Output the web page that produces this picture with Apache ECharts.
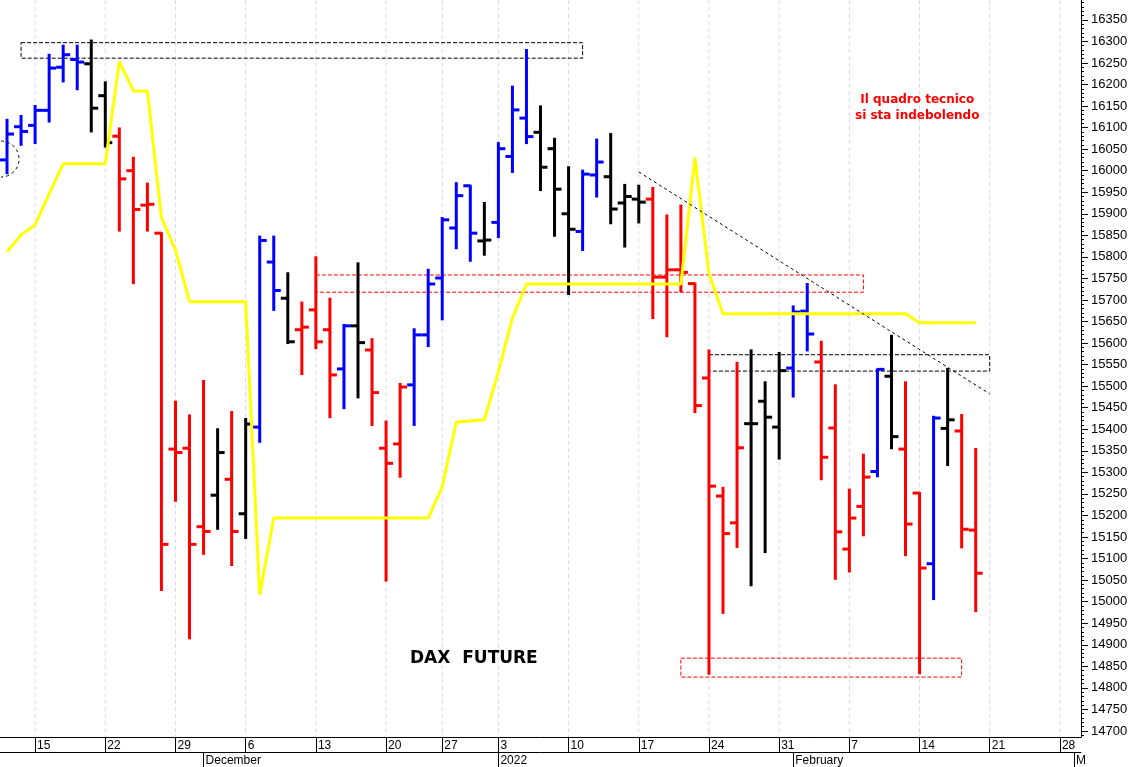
<!DOCTYPE html>
<html><head><meta charset="utf-8">
<script src="https://cdn.jsdelivr.net/npm/echarts@6/dist/echarts.min.js"></script>
<style>html,body{margin:0;padding:0;background:#fff}#chart{width:1131px;height:767px}</style>
</head><body><div id="chart"></div>
<script>
const dates = ['2021-11-11','2021-11-12','2021-11-15','2021-11-16','2021-11-17','2021-11-18','2021-11-19','2021-11-22','2021-11-23','2021-11-24','2021-11-25','2021-11-26','2021-11-29','2021-11-30','2021-12-01','2021-12-02','2021-12-03','2021-12-06','2021-12-07','2021-12-08','2021-12-09','2021-12-10','2021-12-13','2021-12-14','2021-12-15','2021-12-16','2021-12-17','2021-12-20','2021-12-21','2021-12-22','2021-12-23','2021-12-27','2021-12-28','2021-12-29','2021-12-30','2022-01-03','2022-01-04','2022-01-05','2022-01-06','2022-01-07','2022-01-10','2022-01-11','2022-01-12','2022-01-13','2022-01-14','2022-01-17','2022-01-18','2022-01-19','2022-01-20','2022-01-21','2022-01-24','2022-01-25','2022-01-26','2022-01-27','2022-01-28','2022-01-31','2022-02-01','2022-02-02','2022-02-03','2022-02-04','2022-02-07','2022-02-08','2022-02-09','2022-02-10','2022-02-11','2022-02-14','2022-02-15','2022-02-16','2022-02-17','2022-02-18','2022-02-21','2022-02-22','2022-02-23','2022-02-24','2022-02-25','2022-02-28','2022-03-01'];

const barColors = ['B','B','B','B','B','B','K','K','R','R','R','R','R','R','R','K','R','K','B','B','K','R','R','R','B','K','R','R','R','B','B','B','B','B','K','B','B','B','K','K','K','B','B','K','K','K','R','R','R','R','R','R','R','K','K','K','B','B','R','R','R','R','B','K','R','R','B','K','R','R'];

const opens  = [16025,16102,16105,16140,16240,16258,16248,16174,16080,16000,15920,15855,15354,15356,15174,15247,15284,15204,15405,15788,15704,15631,15677,15631,15540,15640,15584,15356,15366,15503,15619,15751,15867,15965,15837,15880,16033,16122,16089,16051,15900,15859,15990,15986,15925,15934,15934,15753,15770,15738,15519,15245,15183,15413,15465,15405,15542,15674,15556,15403,15122,15221,15302,15523,15354,15252,15088,15402,15396,15166];
const highs  = [16118,16127,16150,16269,16290,16290,16302,16205,16098,16030,15970,15855,15464,15432,15512,15400,15440,15424,15847,15847,15762,15694,15799,15703,15642,15785,15609,15418,15505,15632,15770,15890,15971,15965,15925,16064,16195,16280,16149,16074,16008,16000,16072,16085,15967,15965,15960,15896,15919,15738,15583,15264,15554,15583,15509,15577,15685,15737,15603,15502,15260,15341,15539,15617,15509,15252,15429,15540,15433,15354];
const lows   = [15994,16060,16064,16114,16207,16189,16091,16056,15861,15739,15861,15027,15234,14915,15111,15169,15085,15148,15371,15677,15600,15528,15588,15428,15449,15474,15410,15049,15290,15410,15593,15655,15820,15791,15805,15846,15997,16064,15955,15849,15714,15816,15940,15878,15824,15880,15658,15616,15720,15440,14833,14974,15127,15038,15115,15332,15476,15583,15284,15053,15070,15154,15291,15356,15108,14834,15006,15317,15126,14978];
const closes = [16085,16091,16140,16238,16269,16252,16145,16065,15981,15910,15922,15133,15346,15133,15163,15346,15163,15412,15838,15722,15603,15637,15603,15526,15640,15601,15485,15321,15498,15619,15737,15886,15942,15855,15839,16051,16141,16079,16008,15957,15864,15992,16020,15911,15940,15927,15753,15770,15764,15455,15268,15158,15357,15413,15428,15536,15672,15621,15335,15162,15194,15289,15539,15383,15180,15078,15426,15422,15168,15066];

const stopLine = [15812,15851,15874,15946,16016,16016,16016,16016,16253,16185,16185,15891,15816,15696,15696,15696,15696,15696,15016,15194,15194,15194,15194,15194,15194,15194,15194,15194,15194,15194,15194,15266,15417,15419,15422,15533,15658,15737,15737,15737,15737,15737,15737,15737,15737,15737,15737,15737,15737,16030,15761,15668,15668,15668,15668,15668,15668,15668,15668,15668,15668,15668,15668,15668,15668,15647,15647,15647,15647,15647];

const yTickLabels = [14700,14750,14800,14850,14900,14950,15000,15050,15100,15150,15200,15250,15300,15350,15400,15450,15500,15550,15600,15650,15700,15750,15800,15850,15900,15950,16000,16050,16100,16150,16200,16250,16300,16350];
const monthLabels = [[14,'December'],[35,'2022'],[56,'February'],[76,'M']];

// boxes: color, start index, end index, top value, bottom value
const boxes = [['K',1,41,16297,16261],['R',22,61,15758,15718],['K',50,70,15573,15535],['R',48,68,14869,14825]];
const trendLine = [[45,15997],[70,15482]];
const circleMark = [0,16027];

const colorMap = {B:'#0000ff', K:'#000000', R:'#ff0000'};
const mondays = [];
dates.forEach((d,i)=>{ if (new Date(d+'T00:00:00Z').getUTCDay()===1) mondays.push(i); });
const mondaySet = new Set(mondays);
const monthMap = {}; monthLabels.forEach(([i,t])=>monthMap[i]=t);
const minorTicks = []; for (let v=14690; v<=16390; v+=10) minorTicks.push(v);

const ohlc = opens.map((o,i)=>[i,o,highs[i],lows[i],closes[i]]);
const axisFont = 'Liberation Sans, Arial';

const chart = echarts.init(document.getElementById('chart'));
chart.setOption({
  animation:false,
  backgroundColor:'#ffffff',
  grid:{left:0,right:50,top:0,bottom:30},
  xAxis:[{
    type:'category', data:dates, boundaryGap:true, position:'bottom',
    axisLine:{show:true,lineStyle:{color:'#000',width:1}},
    axisTick:{show:true,alignWithLabel:true,length:15,lineStyle:{color:'#000'},interval:(i)=>mondaySet.has(i)},
    axisLabel:{interval:(i)=>mondaySet.has(i),formatter:(v)=>String(parseInt(v.slice(8),10)),align:'left',padding:[0,0,0,2],margin:3,fontSize:12,color:'#000',fontFamily:axisFont},
    splitLine:{show:false}
  },{
    type:'category', data:dates, boundaryGap:true, position:'bottom', offset:15,
    axisLine:{show:true,lineStyle:{color:'#000',width:1}},
    axisTick:{show:true,alignWithLabel:true,length:15,lineStyle:{color:'#000'},interval:(i)=>(i in monthMap)},
    axisLabel:{interval:(i)=>(i in monthMap),formatter:(v,i)=>monthMap[i]||'',align:'left',padding:[0,0,0,2],margin:3,fontSize:12,color:'#000',fontFamily:axisFont},
    splitLine:{show:false}
  }],
  yAxis:[{
    type:'value', position:'right', min:14686, max:16396, scale:true,
    axisLine:{show:true,lineStyle:{color:'#000',width:1}},
    axisTick:{show:true,length:7,lineStyle:{color:'#000'},customValues:yTickLabels},
    axisLabel:{show:true,margin:10,fontSize:13,color:'#000',fontFamily:axisFont,customValues:yTickLabels,formatter:(v)=>String(v)},
    splitLine:{show:false}
  },{
    type:'value', position:'right', min:14686, max:16396, scale:true,
    axisLine:{show:false},
    axisTick:{show:true,length:3,lineStyle:{color:'#000'},customValues:minorTicks},
    axisLabel:{show:false},
    splitLine:{show:false}
  }],
  series:[
    { // vertical grid lines at Mondays
      type:'custom', z:1, silent:true, data:mondays.map(i=>[i]), encode:{x:0},
      renderItem:(params,api)=>{
        const x = api.coord([api.value(0),16000])[0];
        const cs = params.coordSys;
        return {type:'line',shape:{x1:x,y1:cs.y,x2:x,y2:cs.y+cs.height},style:{stroke:'#d8d8f0',lineWidth:1,lineDash:[4,3]}};
      }
    },
    { // dashed boxes
      type:'custom', z:2, silent:true, data:boxes.map(b=>[b[1],b[2],b[3],b[4]]), encode:{x:[0,1],y:[2,3]},
      renderItem:(params,api)=>{
        const b = boxes[params.dataIndex];
        const p1 = api.coord([b[1],b[3]]), p2 = api.coord([b[2],b[4]]);
        return {type:'rect',shape:{x:p1[0],y:p1[1],width:p2[0]-p1[0],height:p2[1]-p1[1]},style:{fill:'none',stroke:colorMap[b[0]],lineWidth:1,lineDash:[4,2]}};
      }
    },
    { // OHLC bars
      type:'custom', z:3, silent:true, data:ohlc, encode:{x:0,y:[1,2,3,4]},
      renderItem:(params,api)=>{
        const i = api.value(0);
        const o = api.coord([i,api.value(1)]), h = api.coord([i,api.value(2)]);
        const l = api.coord([i,api.value(3)]), c = api.coord([i,api.value(4)]);
        const col = colorMap[barColors[params.dataIndex]];
        const st = {stroke:col,lineWidth:3};
        return {type:'group',children:[
          {type:'line',shape:{x1:h[0],y1:h[1]-1,x2:l[0],y2:l[1]+1},style:st},
          {type:'line',shape:{x1:o[0]-7,y1:o[1],x2:o[0],y2:o[1]},style:st},
          {type:'line',shape:{x1:c[0],y1:c[1],x2:c[0]+7,y2:c[1]},style:st}
        ]};
      }
    },
    { // yellow stop line
      type:'line', z:4, data:stopLine, xAxisIndex:0, yAxisIndex:0, symbol:'none', silent:true,
      lineStyle:{color:'#ffff00',width:3}
    },
    { // trend line and circle
      type:'custom', z:5, silent:true, data:[[trendLine[0][0],trendLine[0][1],trendLine[1][0],trendLine[1][1]]], encode:{x:[0,2],y:[1,3]},
      renderItem:(params,api)=>{
        const a = api.coord(trendLine[0]), b = api.coord(trendLine[1]);
        const cc = api.coord(circleMark);
        return {type:'group',children:[
          {type:'line',shape:{x1:a[0],y1:a[1],x2:b[0],y2:b[1]},style:{stroke:'#000',lineWidth:1,lineDash:[3,3]}},
          {type:'arc',shape:{cx:cc[0]-6,cy:cc[1],r:18,startAngle:-Math.PI/2,endAngle:Math.PI/2,clockwise:true},style:{fill:'none',stroke:'#000',lineWidth:1,lineDash:[3,3]}}
        ]};
      }
    }
  ],
  graphic:[
    {type:'text',left:855,top:92,style:{text:'Il quadro tecnico\nsi sta indebolendo',font:'bold 12px "DejaVu Sans"',fill:'#ff0000',textAlign:'center',lineHeight:16,x:60},z:10},
    {type:'text',left:410,top:650,style:{text:'DAX  FUTURE',font:'bold 17px "DejaVu Sans"',fill:'#000000'},z:10}
  ]
});
</script></body></html>
